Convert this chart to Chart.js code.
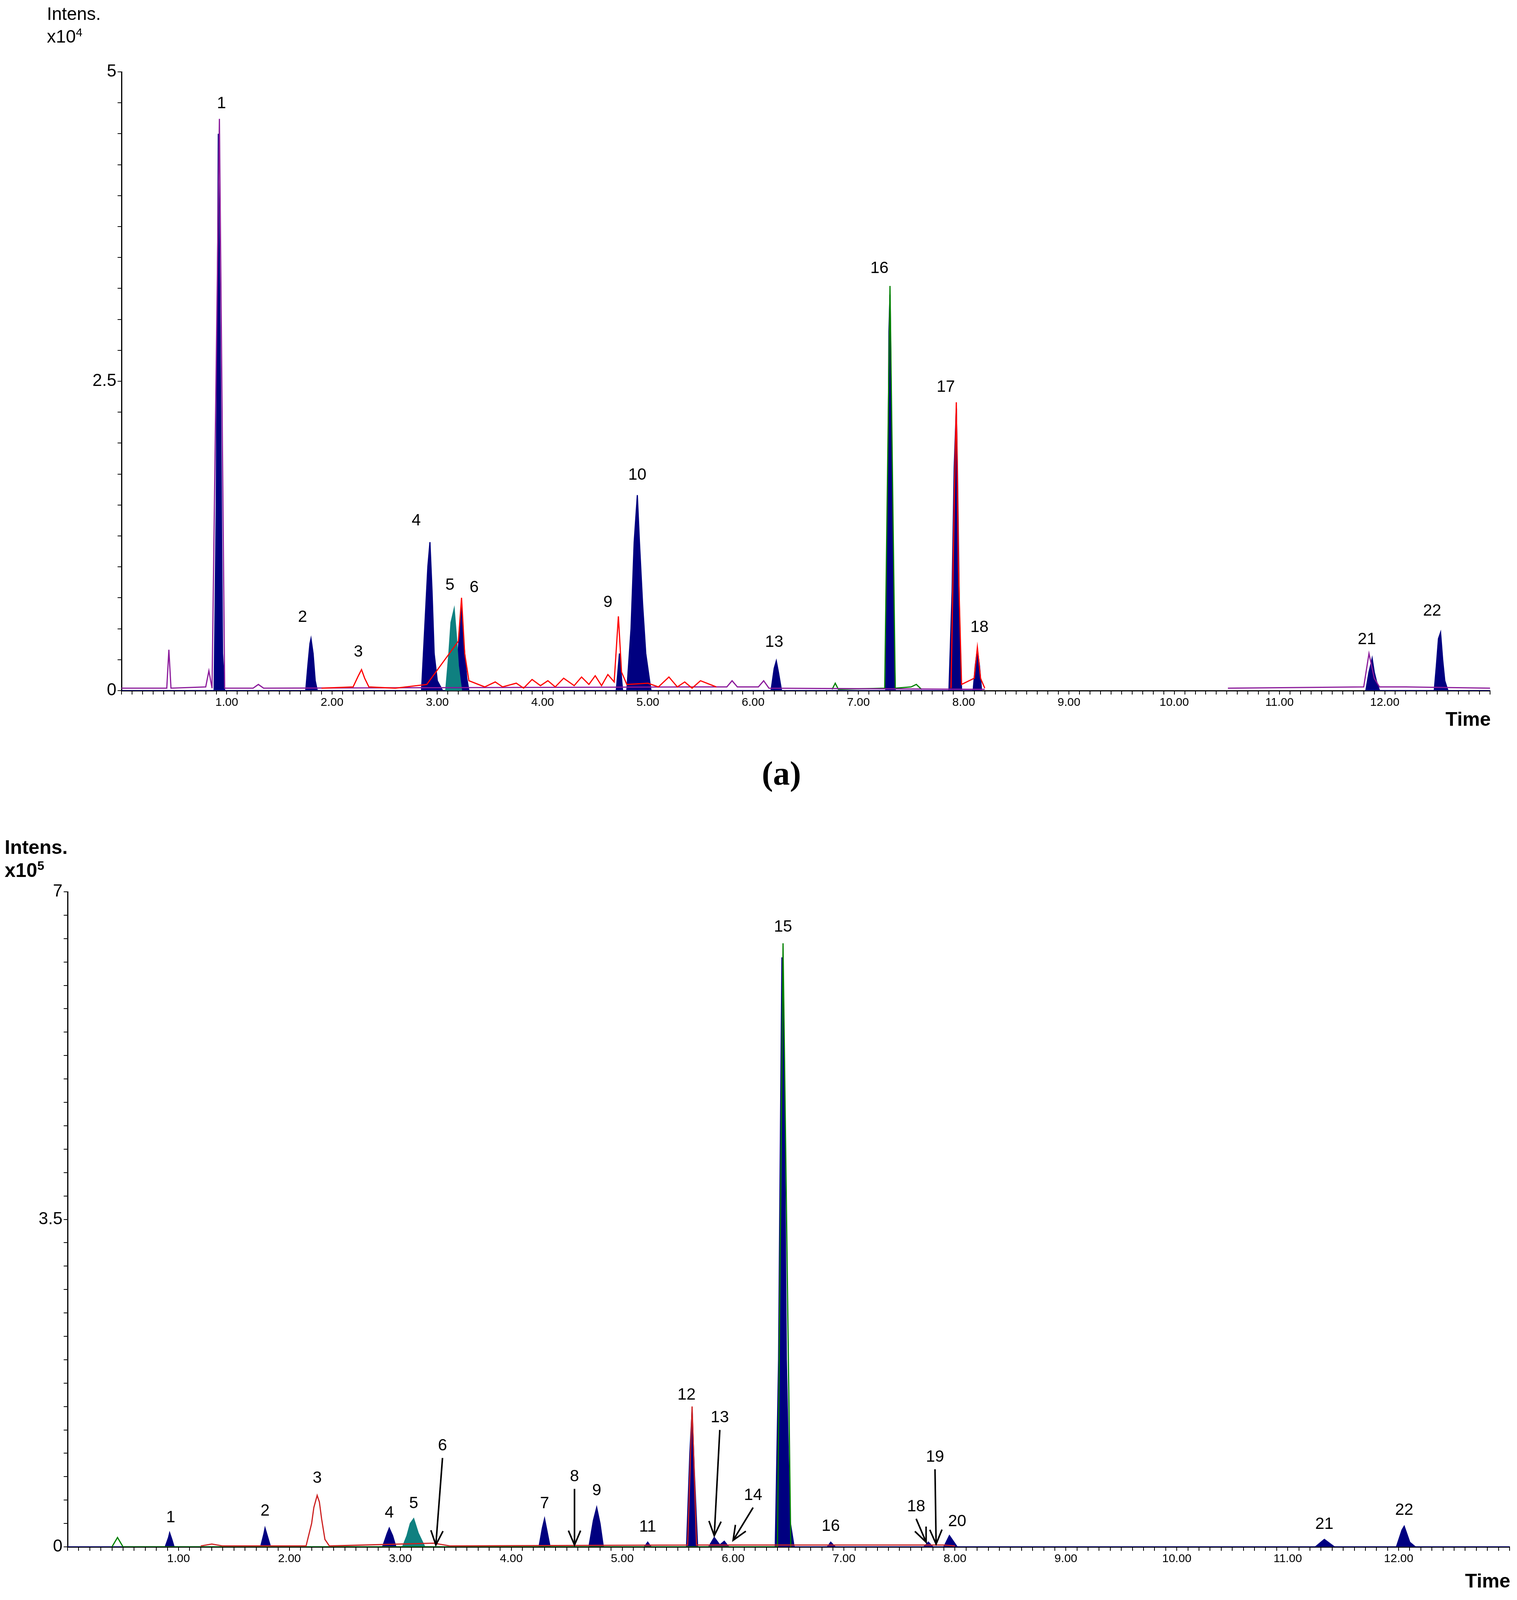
<!DOCTYPE html>
<html><head><meta charset="utf-8">
<script src="https://cdn.jsdelivr.net/npm/chart.js@4"></script>
<style>
body{margin:0;background:#fff;width:3883px;height:4295px;position:relative;font-family:"Liberation Sans",Arial,sans-serif;overflow:hidden}
.t{position:absolute;color:#000;white-space:nowrap}
#ca{position:absolute;left:0;top:0}
#cb{position:absolute;left:0;top:2050px}
</style></head><body>
<canvas id="ca" width="3883" height="1900"></canvas>
<canvas id="cb" width="3883" height="2100"></canvas>
<div class="t" style="left:120px;top:8px;font-size:46px">Intens.</div>
<div class="t" style="left:120px;top:66px;font-size:46px">x10<sup style="font-size:30px">4</sup></div>
<div class="t" style="left:3700px;top:1812px;font-size:50px;font-weight:bold">Time</div>
<div class="t" style="left:1950px;top:1930px;font-size:86px;font-weight:bold;font-family:'Liberation Serif',serif">(a)</div>
<div class="t" style="left:12px;top:2140px;font-size:50px;font-weight:bold">Intens.</div>
<div class="t" style="left:12px;top:2198px;font-size:50px;font-weight:bold">x10<sup style="font-size:32px">5</sup></div>
<div class="t" style="left:3750px;top:4018px;font-size:50px;font-weight:bold">Time</div>
<div class="t" style="left:1950px;top:4180px;font-size:86px;font-weight:bold;font-family:'Liberation Serif',serif">(b)</div>
<script>
// ---- Chart (a) data (x10^4) ----
const aNavy=[[0,0],[0.88,0],[0.9,1.5],[0.92,4.5],[0.94,2.5],[0.96,0.3],[0.98,0],[1.75,0],[1.77,0.2],[1.79,0.38],[1.8,0.42],[1.82,0.3],[1.84,0.08],[1.86,0],
[2.85,0],[2.88,0.5],[2.91,1.0],[2.93,1.2],[2.95,0.8],[2.97,0.3],[3.0,0.08],[3.05,0],[3.18,0],[3.21,0.5],[3.23,0.7],[3.25,0.4],[3.28,0.1],[3.3,0],
[4.7,0],[4.73,0.3],[4.76,0],[4.8,0],[4.84,0.5],[4.87,1.2],[4.9,1.58],[4.92,1.2],[4.95,0.7],[4.98,0.3],[5.03,0],[6.17,0],[6.2,0.18],[6.22,0.24],[6.24,0.15],[6.27,0],
[7.26,0],[7.28,1.5],[7.29,2.9],[7.3,3.2],[7.31,2.5],[7.33,0.8],[7.35,0],[7.86,0],[7.89,0.8],[7.91,1.8],[7.93,2.28],[7.94,1.8],[7.96,0.6],[7.98,0],[8.09,0],[8.11,0.2],[8.13,0.33],[8.15,0.2],[8.17,0],
[8.2,null],[10.5,null],[11.82,0],[11.85,0.15],[11.87,0.22],[11.88,0.26],[11.9,0.15],[11.92,0.08],[11.95,0],[12.47,0],[12.49,0.2],[12.51,0.42],[12.53,0.47],[12.55,0.25],[12.57,0.08],[12.6,0],[13,0]];
const aTeal=[[3.08,0],[3.11,0.3],[3.13,0.55],[3.16,0.66],[3.18,0.45],[3.2,0.2],[3.23,0]];
const aRed=[[1.9,0.02],[2.2,0.03],[2.25,0.12],[2.28,0.17],[2.31,0.1],[2.35,0.03],[2.6,0.02],[2.9,0.05],[3.2,0.4],[3.23,0.75],[3.26,0.3],[3.3,0.08],[3.45,0.03],[3.55,0.07],[3.62,0.03],[3.75,0.06],[3.82,0.02],[3.9,0.09],[3.98,0.04],[4.05,0.08],[4.12,0.03],[4.2,0.1],[4.3,0.04],[4.37,0.11],[4.44,0.05],[4.5,0.12],[4.56,0.04],[4.62,0.13],[4.68,0.07],[4.72,0.6],[4.75,0.15],[4.8,0.05],[5.0,0.06],[5.1,0.03],[5.2,0.11],[5.28,0.03],[5.35,0.07],[5.42,0.02],[5.5,0.08],[5.65,0.03],[5.7,null],[7.85,null],[7.88,0.02],[7.91,1.5],[7.93,2.33],[7.95,1.0],[7.98,0.05],[8.1,0.1],[8.13,0.35],[8.16,0.1],[8.2,0.02]];
const aPurple=[[0,0.02],[0.43,0.02],[0.45,0.33],[0.47,0.02],[0.8,0.03],[0.83,0.16],[0.86,0.02],[0.93,4.62],[0.98,0.02],[1.25,0.02],[1.3,0.05],[1.35,0.02],[5.5,0.03],[5.75,0.03],[5.8,0.08],[5.85,0.03],[6.05,0.03],[6.1,0.08],[6.15,0.02],[8.2,0.01],[8.21,null],[10.5,null],[10.51,0.02],[11.8,0.03],[11.85,0.3],[11.9,0.1],[11.95,0.03],[12.2,0.03],[13,0.02]];
const aGreen=[[6.75,0.01],[6.78,0.06],[6.81,0.01],[7.25,0.02],[7.3,3.27],[7.35,0.02],[7.5,0.03],[7.55,0.05],[7.6,0.01]];
const aLabels=[["1",0.95,4.65],["2",1.72,0.5],["3",2.25,0.22],["4",2.8,1.28],["5",3.12,0.76],["6",3.35,0.74],["9",4.62,0.62],["10",4.9,1.65],["13",6.2,0.3],["16",7.2,3.32],["17",7.83,2.36],["18",8.15,0.42],["21",11.83,0.32],["22",12.45,0.55]];
// ---- Chart (b) data (x10^5) ----
const bNavy=[[0,0],[0.88,0],[0.91,0.1],[0.92,0.15],[0.94,0.08],[0.96,0],[1.74,0],[1.77,0.14],[1.78,0.2],[1.8,0.12],[1.83,0],[2.84,0],[2.88,0.14],[2.9,0.2],[2.93,0.12],[2.96,0],[4.25,0],[4.28,0.2],[4.3,0.3],[4.32,0.18],[4.35,0],
[4.7,0],[4.74,0.28],[4.77,0.42],[4.8,0.25],[4.83,0],[5.2,0],[5.23,0.05],[5.26,0],[5.58,0],[5.61,1.0],[5.63,1.45],[5.65,0.8],[5.68,0],[5.78,0],[5.83,0.1],[5.88,0.02],[5.92,0.06],[5.96,0],
[6.38,0],[6.41,2.0],[6.42,3.5],[6.44,6.3],[6.46,5.0],[6.48,2.0],[6.51,0.3],[6.55,0],[6.85,0],[6.88,0.05],[6.92,0],[7.72,0],[7.76,0.05],[7.8,0],[7.9,0],[7.95,0.12],[8.02,0],
[11.25,0],[11.33,0.08],[11.42,0],[11.98,0],[12.03,0.18],[12.05,0.22],[12.1,0.05],[12.15,0],[13,0]];
const bTeal=[[3.02,0],[3.06,0.12],[3.09,0.25],[3.12,0.3],[3.16,0.15],[3.22,0]];
const bRed=[[1.2,0.01],[1.3,0.03],[1.4,0.01],[2.15,0.01],[2.2,0.25],[2.22,0.42],[2.25,0.55],[2.27,0.48],[2.29,0.3],[2.32,0.08],[2.36,0.01],[3.3,0.04],[3.45,0.01],[5.59,0.02],[5.63,1.5],[5.67,0.02],[7.9,0.02],[8.0,0.01]];
const bGreen=[[0.4,0],[0.45,0.1],[0.5,0],[6.4,0],[6.45,6.45],[6.52,0]];
const bLabels=[["1",0.93,0.19],["2",1.78,0.26],["3",2.25,0.61],["4",2.9,0.24],["5",3.12,0.34],["7",4.3,0.34],["9",4.77,0.48],["11",5.23,0.09],["12",5.58,1.5],["15",6.45,6.5],["16",6.88,0.1],["20",8.02,0.15],["21",11.33,0.12],["22",12.05,0.27]];
const bArrows=[["6",3.38,0.95,3.32,0.02],["8",4.57,0.62,4.57,0.02],["13",5.88,1.25,5.83,0.12],["14",6.18,0.42,6.0,0.07],["18",7.65,0.3,7.74,0.05],["19",7.82,0.83,7.83,0.03]];

const xy=a=>a.map(p=>({x:p[0],y:p[1]}));
const ds=(d,col,fill)=>({data:xy(d),borderColor:col,backgroundColor:fill||col,fill:fill?'origin':false,borderWidth:3,pointRadius:0,tension:0,spanGaps:false});
const labelPlugin=(labels,arrows)=>({id:'lbl',afterDatasetsDraw(c){const g=c.ctx,X=c.scales.x,Y=c.scales.y;g.save();g.fillStyle='#000';g.strokeStyle='#000';g.font='42px "Liberation Sans",Arial';g.textAlign='center';g.textBaseline='bottom';
 labels.forEach(l=>g.fillText(l[0],X.getPixelForValue(l[1]),Y.getPixelForValue(l[2])-8));
 (arrows||[]).forEach(a=>{const x0=X.getPixelForValue(a[1]),y0=Y.getPixelForValue(a[2]),x1=X.getPixelForValue(a[3]),y1=Y.getPixelForValue(a[4]);g.fillText(a[0],x0,y0-10);g.lineWidth=4;g.beginPath();g.moveTo(x0,y0);g.lineTo(x1,y1);g.stroke();const an=Math.atan2(y1-y0,x1-x0);g.beginPath();g.moveTo(x1-40*Math.cos(an-0.4),y1-40*Math.sin(an-0.4));g.lineTo(x1,y1);g.lineTo(x1-40*Math.cos(an+0.4),y1-40*Math.sin(an+0.4));g.stroke();});
 g.restore();}});
function make(id,datasets,ymax,ystep,ylabels,left,right,top,xh,labels,arrows){
 return new Chart(document.getElementById(id),{type:'line',data:{datasets},plugins:[labelPlugin(labels,arrows)],
 options:{responsive:false,animation:false,layout:{padding:{top,right,left:0,bottom:0}},plugins:{legend:{display:false},tooltip:{enabled:false}},
 scales:{x:{type:'linear',min:0,max:13,grid:{drawOnChartArea:false,color:'#000',tickLength:10,lineWidth:2},border:{color:'#000',width:3},
  afterBuildTicks:s=>{const t=[];for(let i=0;i<=130;i++)t.push({value:i/10});s.ticks=t;},
  ticks:{autoSkip:false,maxRotation:0,color:'#000',font:{size:30},callback:v=>{const r=Math.round(v);return (Math.abs(v-r)<1e-6&&r>=1&&r<=12)?r.toFixed(2):'';}},afterFit:s=>{s.height=xh;}},
  y:{min:0,max:ymax,grid:{drawOnChartArea:false,color:'#000',tickLength:10,lineWidth:2},border:{color:'#000',width:3},
  afterBuildTicks:s=>{const t=[];for(let v=0;v<=ymax+1e-9;v+=ystep)t.push({value:v});s.ticks=t;},
  ticks:{autoSkip:false,color:'#000',font:{size:44},callback:v=>{const m=ylabels.find(q=>Math.abs(q-v)<1e-6);return m===undefined?'':String(m);}},afterFit:s=>{s.width=left;}}}}});
}
make('ca',[ds(aRed,'#ff0000'),ds(aPurple,'#8b1a9b'),ds(aGreen,'#008000'),ds(aTeal,'#0f8080','#0f8080'),ds(aNavy,'#000080','#000080')],5,0.25,[0,2.5,5],311,69,184,132,aLabels);
make('cb',[ds(bRed,'#cc2020'),ds(bGreen,'#008000'),ds(bTeal,'#0f8080','#0f8080'),ds(bNavy,'#000080','#000080')],7,0.25,[0,3.5,7],173,19,233,190,bLabels,bArrows);
</script></body></html>
